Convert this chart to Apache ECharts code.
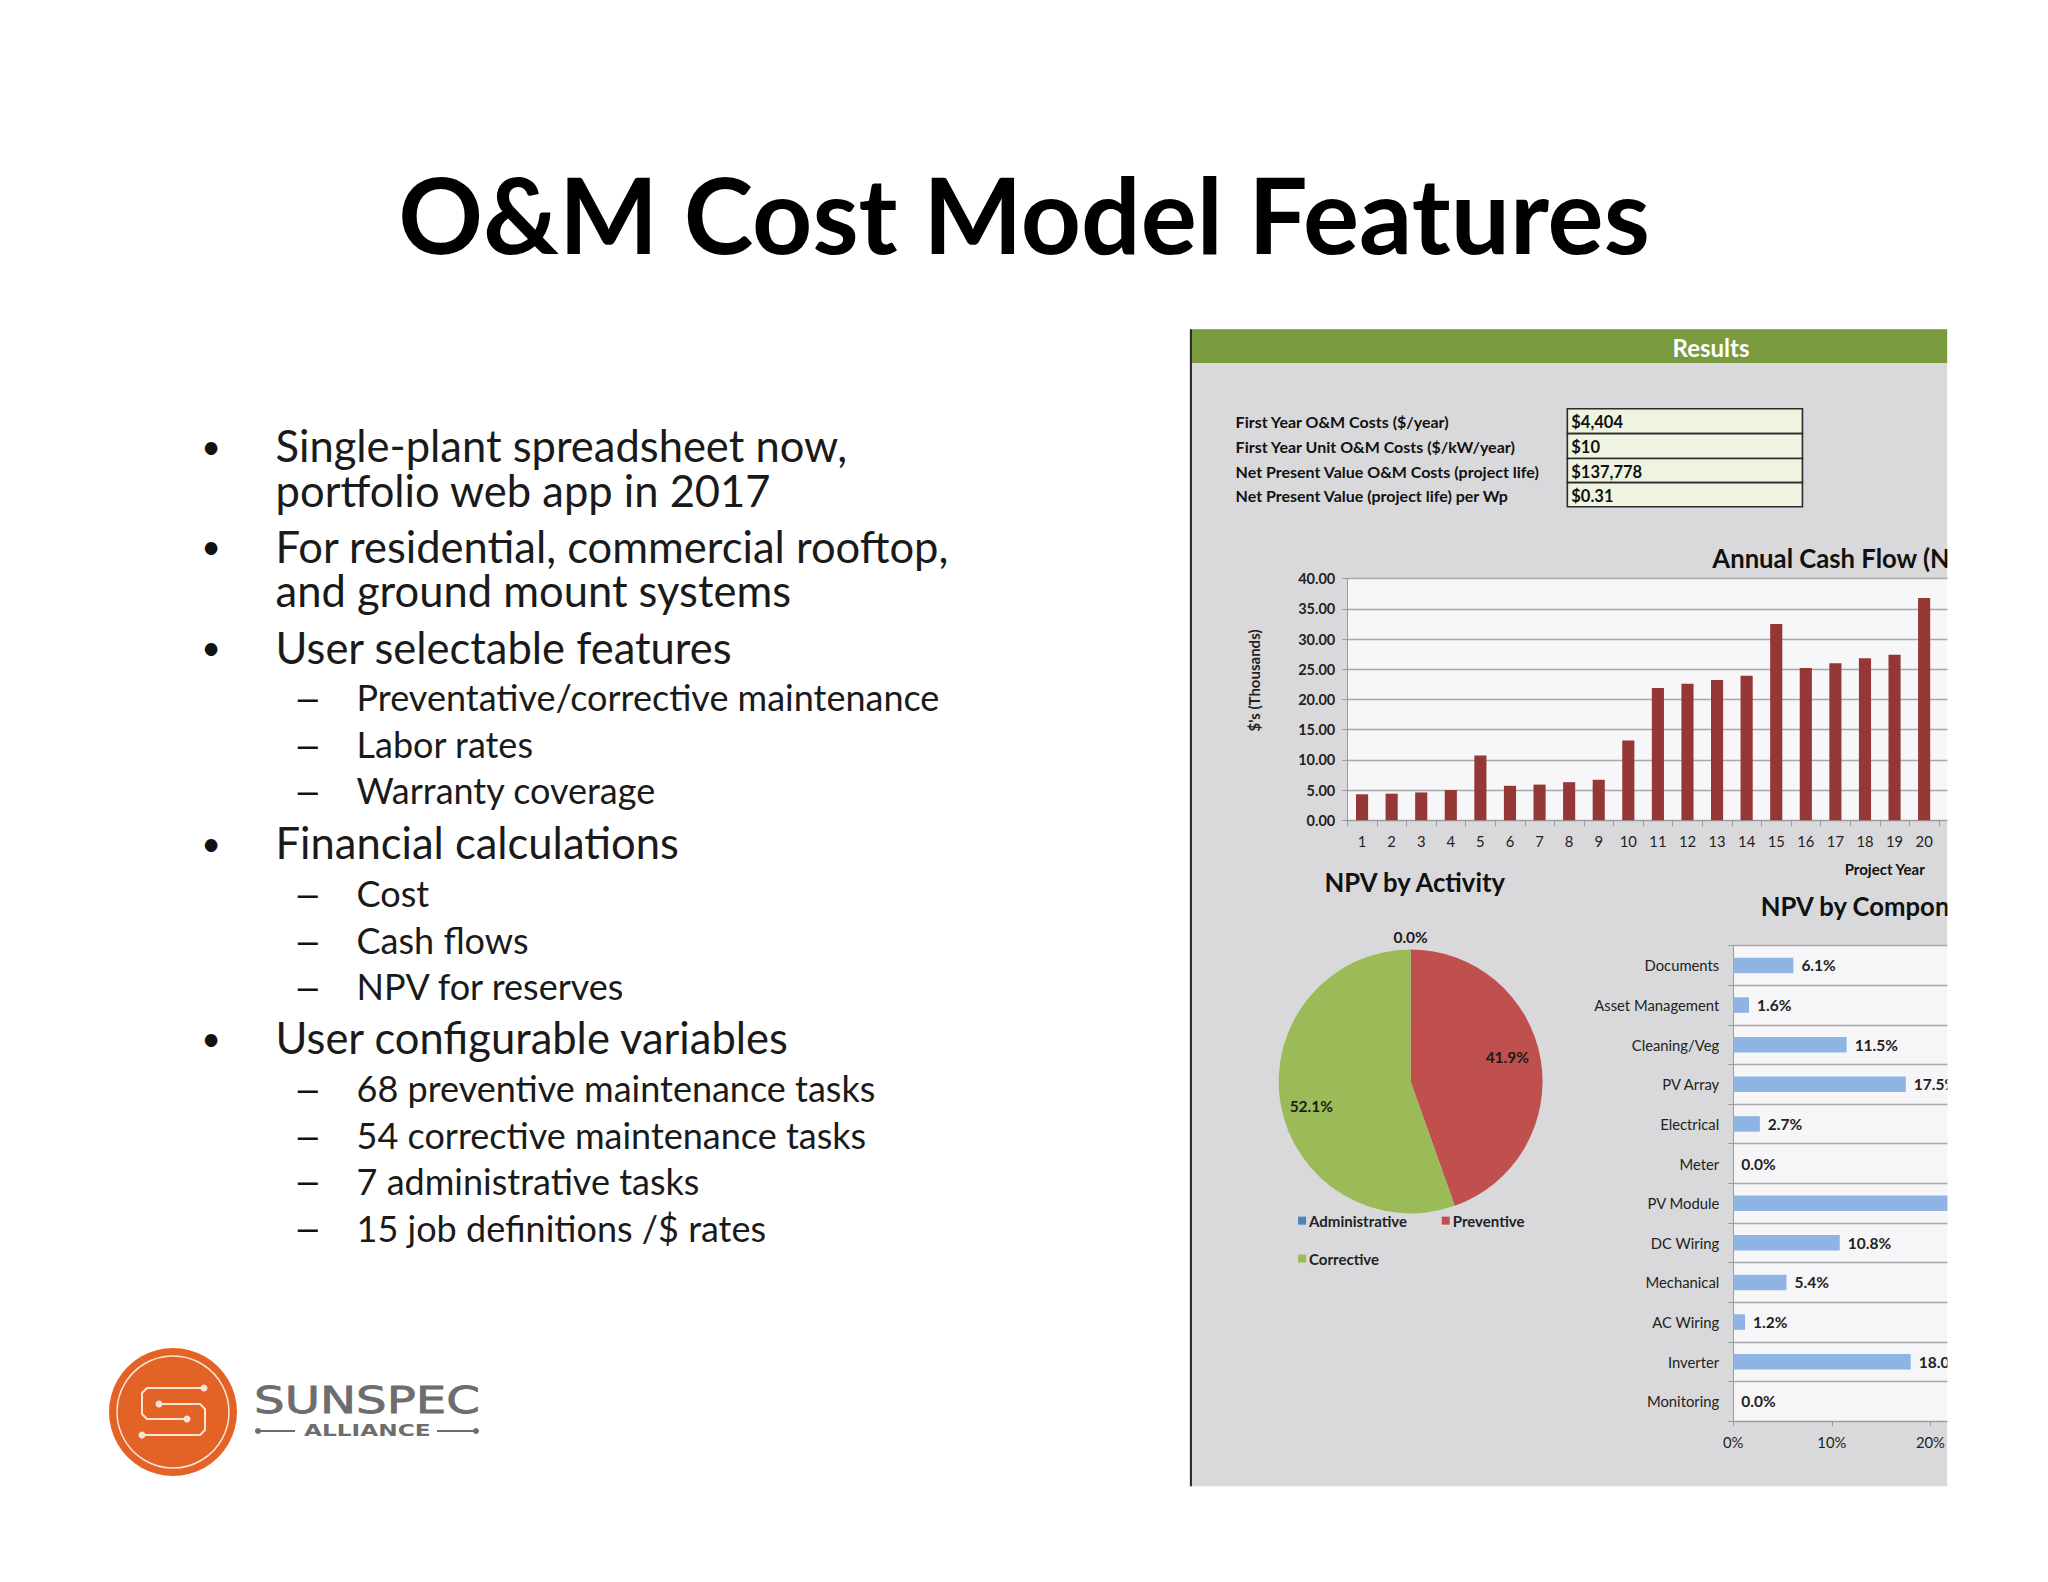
<!DOCTYPE html>
<html>
<head>
<meta charset="utf-8">
<title>O&amp;M Cost Model Features</title>
<script src="https://cdn.jsdelivr.net/npm/echarts@6/dist/echarts.min.js"></script>
<style>
  html, body { margin: 0; padding: 0; background: #fff; }
  #slide { width: 2048px; height: 1582px; }
</style>
</head>
<body>
<div id="slide"></div>
<script>
// 幻灯片文字
const mainBullets = [
    [341, 'Single-plant spreadsheet now,\nportfolio web app in 2017'],
    [418, 'For residential, commercial rooftop,\nand ground mount systems'],
    [495, 'User selectable features'],
    [645, 'Financial calculations'],
    [794, 'User configurable variables']
];
const subBullets = [
    [534, 'Preventative/corrective maintenance'],
    [570, 'Labor rates'],
    [605, 'Warranty coverage'],
    [684, 'Cost'],
    [720, 'Cash flows'],
    [755, 'NPV for reserves'],
    [833, '68 preventive maintenance tasks'],
    [869, '54 corrective maintenance tasks'],
    [904, '7 administrative tasks'],
    [940, '15 job definitions /$ rates']
];

// 结果表
const tableLabels = [
    'First Year O&M Costs ($/year)',
    'First Year Unit O&M Costs ($/kW/year)',
    'Net Present Value O&M Costs (project life)',
    'Net Present Value (project life) per Wp'
];
const tableValues = ['$4,404', '$10', '$137,778', '$0.31'];

// 年度现金流
const projectYears = ['1', '2', '3', '4', '5', '6', '7', '8', '9', '10', '11', '12', '13', '14', '15', '16', '17', '18', '19', '20', ''];
const cashFlow = [4.3, 4.4, 4.6, 5.0, 10.7, 5.7, 5.9, 6.3, 6.7, 13.2, 21.9, 22.6, 23.2, 23.9, 32.5, 25.2, 26.0, 26.8, 27.4, 36.8, null];

// NPV 饼图
const activityNames = ['Administrative', 'Preventive', 'Corrective'];
const activityValues = [0.0, 41.9, 52.1];
const activityColors = ['#4f81bd', '#c0504d', '#9bbb59'];

// NPV 条形图
const componentNames = ['Documents', 'Asset Management', 'Cleaning/Veg', 'PV Array', 'Electrical', 'Meter', 'PV Module', 'DC Wiring', 'Mechanical', 'AC Wiring', 'Inverter', 'Monitoring'];
const componentValues = [6.1, 1.6, 11.5, 17.5, 2.7, 0.0, 25.2, 10.8, 5.4, 1.2, 18.0, 0.0];

// 坐标按 1568 宽的版面量取
const S = 2048 / 1568;
const FONT = 'Lato, "Open Sans", sans-serif';
const INK = '#111';
const MAIN_LEADING = 34 * S;

function label(x, y, text, size, weight, extra) {
    return {
        type: 'text', x: x * S, y: y * S, z: 5,
        style: Object.assign({
            text: text, fill: INK, fontFamily: FONT, fontSize: size, fontWeight: weight || 'normal',
            align: 'left', verticalAlign: 'middle'
        }, extra || {})
    };
}
function box(x, y, w, h, style, z) {
    return { type: 'rect', z: z, shape: { x: x * S, y: y * S, width: w * S, height: h * S }, style: style };
}

const graphics = [];

// 左侧文字
graphics.push(label(784, 163, 'O&M Cost Model Features', 105, 'bold', { align: 'center', fill: '#000' }));
mainBullets.forEach(function(b) {
    graphics.push(label(154, b[0], '•', 34, 'normal'));
    // 两行的条目合成一段文字，y 取第一行
    const lines = b[1].split('\n').length;
    graphics.push(label(211, b[0] + (lines - 1) * 17, b[1], 43.5, 'normal', { fill: '#1a1a1a', lineHeight: MAIN_LEADING }));
});
subBullets.forEach(function(b) {
    graphics.push(label(228, b[0], '–', 36, 'normal', { fontFamily: '"Liberation Sans"' }));
    graphics.push(label(273, b[0], b[1], 36, 'normal', { fill: '#1a1a1a' }));
});

// 标志
const orange = '#e36327';
const gray = '#6d6d6d';
function line(points, color, width) {
    return { type: 'polyline', z: 6, shape: { points: points }, style: { stroke: color, lineWidth: width, fill: null, lineJoin: 'round' } };
}
function dot(x, y, r, color) {
    return { type: 'circle', z: 6, shape: { cx: x, cy: y, r: r }, style: { fill: color } };
}
graphics.push({ type: 'circle', z: 5, shape: { cx: 173, cy: 1412, r: 64 }, style: { fill: orange } });
graphics.push({ type: 'circle', z: 6, shape: { cx: 173, cy: 1412, r: 56 }, style: { fill: null, stroke: '#fbe3d6', lineWidth: 1.5 } });
graphics.push(line([[204, 1388], [147, 1388], [142, 1393], [142, 1414], [147, 1419], [187, 1419]], '#fbe3d6', 2));
graphics.push(line([[159, 1404], [200, 1404], [205, 1409], [205, 1430], [200, 1435], [142, 1435]], '#fbe3d6', 2));
graphics.push(dot(204, 1388, 3.5, '#fbe3d6'), dot(187, 1419, 3.5, '#fbe3d6'), dot(159, 1404, 3.5, '#fbe3d6'), dot(142, 1435, 3.5, '#fbe3d6'));
graphics.push({
    type: 'text', x: 254, y: 1400, z: 6, scaleX: 1.27,
    style: { text: 'SUNSPEC', fill: gray, stroke: gray, lineWidth: 0.8, fontFamily: '"DejaVu Sans"', fontSize: 38, fontWeight: 'normal', align: 'left', verticalAlign: 'middle' }
});
graphics.push({
    type: 'text', x: 304, y: 1431, z: 6, scaleX: 1.55,
    style: { text: 'ALLIANCE', fill: gray, fontFamily: '"DejaVu Sans"', fontSize: 15, fontWeight: 'bold', align: 'left', verticalAlign: 'middle' }
});
graphics.push(line([[257, 1431], [295, 1431]], gray, 2), line([[437, 1431], [477, 1431]], gray, 2));
graphics.push(dot(258, 1431, 3, gray), dot(476, 1431, 3, gray));

// 右侧面板
graphics.push(box(912, 252, 579, 886, { fill: '#d9d9db' }, -10));
graphics.push(box(912, 252, 579, 26, { fill: '#7a9a3e' }, -9));
graphics.push(box(911, 252, 1.6, 886, { fill: '#2a2a2a' }, -8));
graphics.push(label(1310, 266, 'Results', 24, 'bold', { align: 'center', fill: '#fff' }));

const rowTops = [313, 332, 351, 369.5];
tableLabels.forEach(function(t, i) {
    graphics.push(label(946, rowTops[i] + 10, t, 16, 'bold'));
    graphics.push(box(1200, rowTops[i], 180, i === 3 ? 18.5 : rowTops[i + 1] - rowTops[i], { fill: '#eef4df', stroke: '#2b2b2b', lineWidth: 1.6 }, 1));
    graphics.push(label(1203, rowTops[i] + 10, tableValues[i], 16.5, 'bold'));
});

graphics.push(label(1311, 427, 'Annual Cash Flow (Nominal)', 25.7, 'bold'));
graphics.push(label(1443, 665, 'Project Year', 15, 'bold', { align: 'center' }));
graphics.push(label(1014, 675, 'NPV by Activity', 25.7, 'bold'));
graphics.push(label(1348, 694, 'NPV by Component', 25.7, 'bold'));

// 纵轴名称在图框中线以上，不用轴自带的位置
const yName = label(960, 521, "$'s (Thousands)", 15, 'bold', { align: 'center', fill: '#222' });
yName.rotation = Math.PI / 2;
graphics.push(yName);

// 遮住面板右侧超出部分
graphics.push(box(1491, 240, 77, 910, { fill: '#fff' }, 1000));

const chart = echarts.init(document.getElementById('slide'), null, { renderer: 'svg', width: 2048, height: 1582 });

const axisText = { fontFamily: FONT, color: '#222', fontSize: 14.8 };

// 图例按原图分两行摆放
const legendSpots = [[990, 925], [1100, 925], [990, 954]];

chart.setOption({
    animation: false,
    backgroundColor: '#fff',
    textStyle: { fontFamily: FONT },
    graphic: { elements: graphics },
    grid: [
        {
            left: 1031.5 * S, top: 443 * S, width: 22.65 * 21 * S, height: 185 * S,
            show: true, backgroundColor: '#f7f7f9', borderWidth: 0
        },
        {
            left: 1327 * S, top: 724 * S, width: 7.55 * 30 * S, height: 364 * S,
            show: true, backgroundColor: '#f6f6f8', borderWidth: 0
        }
    ],
    xAxis: [
        {
            type: 'category', gridIndex: 0, data: projectYears,
            axisLine: { lineStyle: { color: '#9a9a9d' } },
            axisTick: { show: true, length: 6, lineStyle: { color: '#9a9a9d' } },
            axisLabel: Object.assign({}, axisText, { margin: 13, interval: 0 }),
            splitLine: { show: false }
        },
        {
            type: 'value', gridIndex: 1, min: 0, max: 30, interval: 10,
            axisLine: { show: true, lineStyle: { color: '#9a9a9d' } },
            axisTick: { show: true, length: 5, lineStyle: { color: '#9a9a9d' } },
            axisLabel: Object.assign({}, axisText, { margin: 13, formatter: '{value}%' }),
            splitLine: { show: false }
        }
    ],
    yAxis: [
        {
            type: 'value', gridIndex: 0, min: 0, max: 40, interval: 5,
            axisLine: { show: true, lineStyle: { color: '#9a9a9d' } },
            axisTick: { show: true, length: 5, lineStyle: { color: '#9a9a9d' } },
            axisLabel: Object.assign({}, axisText, { fontWeight: 'bold', fontSize: 14.5, margin: 12, formatter: function(v) { return v.toFixed(2); } }),
            splitLine: { show: true, lineStyle: { color: '#a8a8ab', width: 1.3 } }
        },
        {
            type: 'category', gridIndex: 1, data: componentNames, inverse: true,
            axisLine: { show: true, lineStyle: { color: '#9a9a9d' } },
            axisTick: { show: true, length: 5, lineStyle: { color: '#9a9a9d' } },
            axisLabel: Object.assign({}, axisText, { margin: 14, interval: 0 }),
            splitLine: { show: true, interval: 0, lineStyle: { color: '#a8a8ab', width: 1.3 } }
        }
    ],
    legend: activityNames.map(function(name, i) {
        return {
            left: legendSpots[i][0] * S, top: legendSpots[i][1] * S,
            itemWidth: 8, itemHeight: 8, icon: 'rect', data: [name],
            textStyle: { fontFamily: FONT, fontSize: 15, fontWeight: 'bold', color: '#222', padding: [0, 0, 0, -2] }
        };
    }),
    series: [
        {
            type: 'bar', xAxisIndex: 0, yAxisIndex: 0, data: cashFlow,
            barWidth: '41%', itemStyle: { color: '#953735' }
        },
        {
            type: 'bar', xAxisIndex: 1, yAxisIndex: 1, data: componentValues,
            barWidth: 15.5, itemStyle: { color: '#8db4e2' },
            label: {
                show: true, position: 'right', distance: 8, fontFamily: FONT, fontSize: 15.5, fontWeight: 'bold', color: '#222',
                formatter: function(p) { return p.value.toFixed(1) + '%'; }
            }
        },
        {
            type: 'pie', center: [1080 * S, 828 * S], radius: 101 * S, startAngle: 90, clockwise: true,
            data: activityNames.map(function(name, i) {
                return { name: name, value: activityValues[i], itemStyle: { color: activityColors[i] } };
            }),
            label: {
                show: true, position: 'inside', fontFamily: FONT, fontSize: 15.5, fontWeight: 'bold', color: '#1a1a1a',
                formatter: function(p) { return p.value.toFixed(1) + '%'; }
            },
            labelLayout: function(p) {
                // 标签靠近扇区外缘
                const shift = [[0, -58], [22, -10], [-24, 10]][p.dataIndex];
                return { dx: shift[0] * S, dy: shift[1] * S };
            },
            labelLine: { show: false },
            emphasis: { disabled: true }
        }
    ]
});
</script>
</body>
</html>
